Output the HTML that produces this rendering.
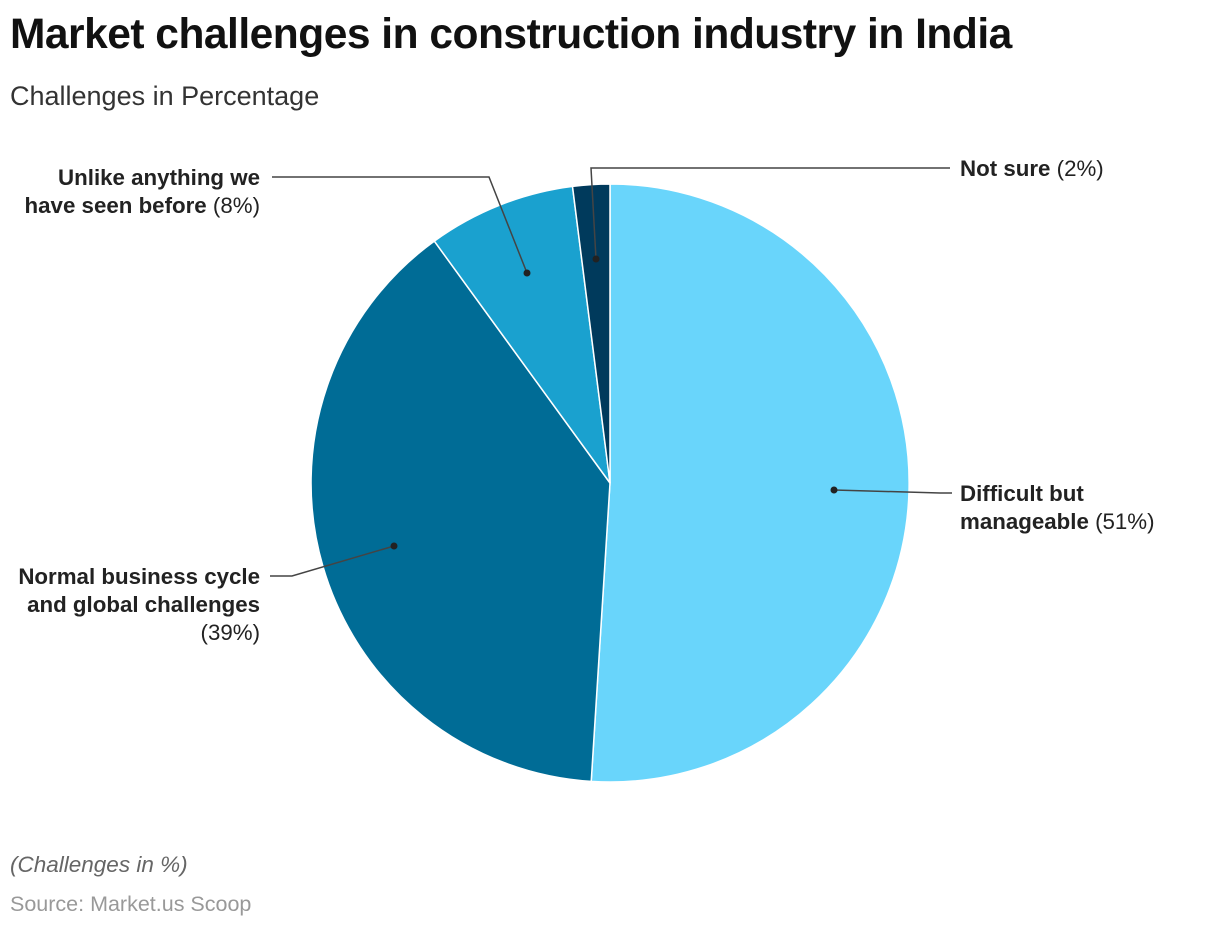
<!DOCTYPE html>
<html><head><meta charset="utf-8"><style>
body{margin:0;width:1220px;height:928px;background:#fff;font-family:"Liberation Sans",sans-serif;position:relative;overflow:hidden}
.t{position:absolute;left:10px;top:11px;font-size:42.5px;font-weight:bold;color:#111;letter-spacing:-0.5px}
.s{position:absolute;left:10px;top:81px;font-size:27px;color:#333}
.n{position:absolute;left:10px;top:852px;font-size:22.5px;font-style:italic;color:#666}
.src{position:absolute;left:10px;top:892px;font-size:21.5px;color:#999}
</style></head><body>
<div class="t">Market challenges in construction industry in India</div>
<div class="s">Challenges in Percentage</div>
<svg width="1220" height="928" style="position:absolute;left:0;top:0">
<g stroke="#fff" stroke-width="1.5">
<path d="M610,483 L610,184 A299,299 0 1 1 591.2,781.4 Z" fill="#69d5fb"/>
<path d="M610,483 L591.2,781.4 A299,299 0 0 1 434.3,241.1 Z" fill="#006c96"/>
<path d="M610,483 L434.3,241.1 A299,299 0 0 1 572.5,186.4 Z" fill="#1aa1cf"/>
<path d="M610,483 L572.5,186.4 A299,299 0 0 1 610,184 Z" fill="#003a5c"/>
</g>
<g stroke="#444" stroke-width="1.5" fill="none">
<polyline points="834,490 940,493 952,493"/>
<polyline points="394,546 292,576 270,576"/>
<polyline points="527,273 489,177 272,177"/>
<polyline points="596,259 591,168 950,168"/>
</g>
<g fill="#222"><circle cx="834" cy="490" r="3.5"/><circle cx="394" cy="546" r="3.5"/><circle cx="527" cy="273" r="3.5"/><circle cx="596" cy="259" r="3.5"/></g>
<g font-size="22.3" fill="#222" font-family="Liberation Sans,sans-serif">
<text x="960" y="176"><tspan font-weight="bold">Not sure</tspan> (2%)</text>
<text x="960" y="501" font-weight="bold">Difficult but</text>
<text x="960" y="529"><tspan font-weight="bold">manageable</tspan> (51%)</text>
<text x="260" y="185" text-anchor="end" font-weight="bold">Unlike anything we</text>
<text x="260" y="213" text-anchor="end"><tspan font-weight="bold">have seen before</tspan> (8%)</text>
<text x="260" y="584" text-anchor="end" font-weight="bold">Normal business cycle</text>
<text x="260" y="612" text-anchor="end" font-weight="bold">and global challenges</text>
<text x="260" y="640" text-anchor="end">(39%)</text>
</g>
</svg>
<div class="n">(Challenges in %)</div>
<div class="src">Source: Market.us Scoop</div>
</body></html>
